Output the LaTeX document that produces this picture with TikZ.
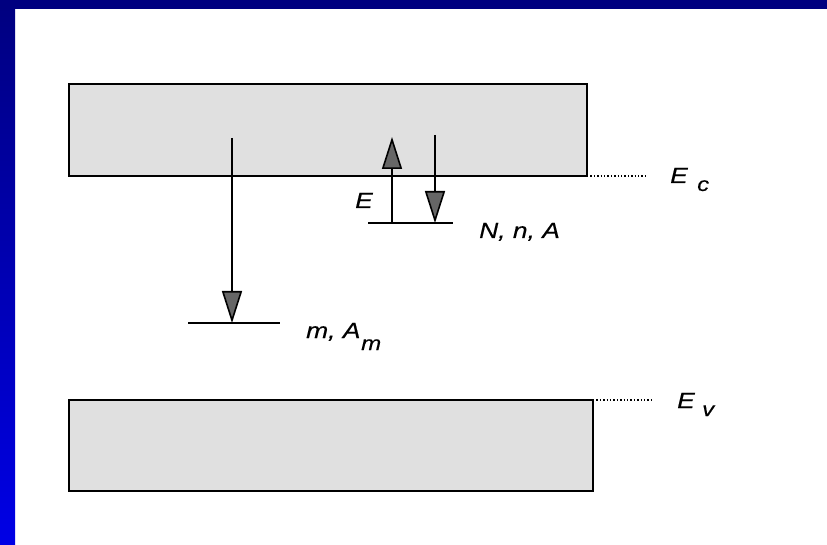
\documentclass[tikz,border=0pt]{standalone}
\usepackage{fontspec}
\setmainfont{Liberation Sans}
\newfontfamily\labfont[FakeStretch=1.2,FakeBold=0.3]{Liberation Sans}
\usetikzlibrary{arrows.meta,patterns}
\begin{document}
\begin{tikzpicture}[x=1pt,y=-1pt,
  band/.style={draw=black,line width=2pt,fill=black!12,outer sep=0pt,inner sep=0pt,anchor=north west},
  level/.style={line width=2pt},
  trans/.style={line width=1.6pt,-{Triangle[length=32pt,width=20pt,fill=black!60]}},
  dots/.style={line width=1.4pt,dotted},
  lab/.style={font=\labfont\fontsize{22}{24}\selectfont\itshape,inner sep=0pt,anchor=base west},
  sub/.style={font=\labfont\fontsize{20}{22}\selectfont\itshape,inner sep=0pt,anchor=base west}]
\useasboundingbox (0,0) rectangle (827,545);
\fill[white] (0,0) rectangle (827,545);
\shade[top color=blue!50!black, bottom color=blue!90!black] (0,0) rectangle (15,545);
\fill[blue!50!black] (0,0) rectangle (827,9);
% bands
\node[band,minimum width=518pt,minimum height=92pt] (cb) at (69,84) {};
\node[band,minimum width=524pt,minimum height=91pt] (vb) at (69,400) {};
% dotted extensions
\coordinate (ce) at (646,176);
\coordinate (ve) at (652,400);
\draw[dots] (cb.south east) -- (cb.south east -| ce);
\draw[dots] (vb.north east) -- (vb.north east -| ve);
\node[lab] (Ec) at (670,183) {E};
\node[sub] (Ecs) at (697,191) {c};
\node[lab] (Ev) at (677,408) {E};
\node[sub] (Evs) at (702,416) {v};
% shallow level
\coordinate (nL) at (368,223);
\coordinate (nR) at (453,223);
\draw[level] (nL) -- (nR);
\coordinate (up0) at (392,223);
\coordinate (up1) at (392,137);
\coordinate (dn0) at (435,135);
\coordinate (dn1) at (435,223);
\draw[trans] (up0) -- (up1);
\draw[trans] (dn0) -- (dn1);
\node[lab] (E) at (355,208) {E};
\node[lab] (Nn) at (479,238) {N, n, A};
% deep level
\coordinate (mL) at (188,323);
\coordinate (mR) at (280,323);
\draw[level] (mL) -- (mR);
\coordinate (m0) at (232,138);
\coordinate (m1) at (232,323);
\draw[trans] (m0) -- (m1);
\node[lab] (mA) at (306,338) {m, A};
\node[sub] (mAs) at (361,350) {m};
\end{tikzpicture}
\end{document}
